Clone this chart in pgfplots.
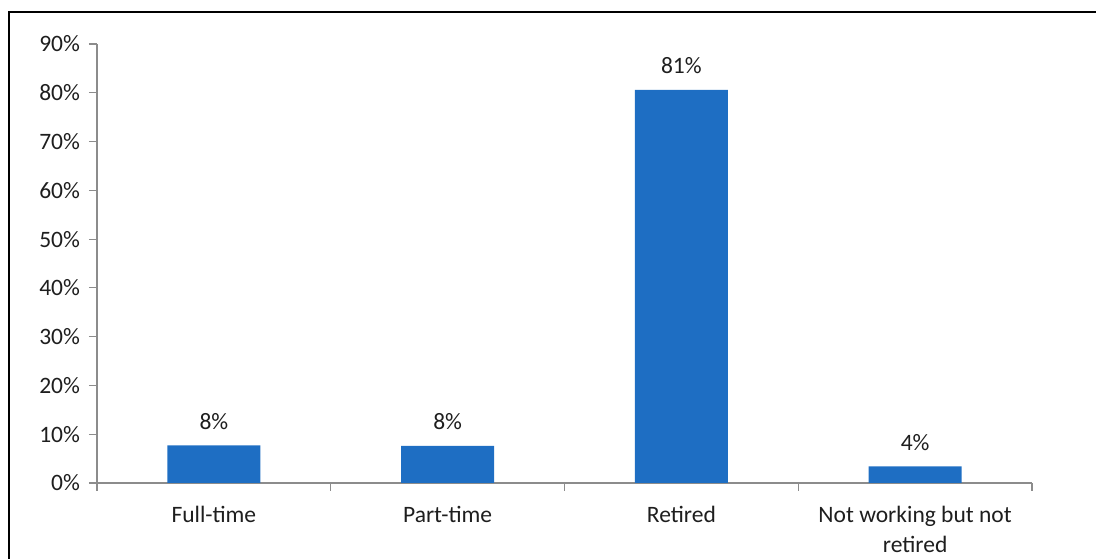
\documentclass[border=0pt]{standalone}
\usepackage{fontspec}
\setmainfont{Carlito}
\usepackage{pgfplots}
\pgfplotsset{compat=1.18}
\definecolor{barblue}{RGB}{30,110,195}
\definecolor{axgray}{RGB}{140,140,140}
\definecolor{txt}{RGB}{30,30,30}
\begin{document}
\begin{tikzpicture}
\useasboundingbox (0,0) rectangle (548bp,279.5bp);
\draw[line width=1.2bp] (4.5bp,0) -- (4.5bp,273.5bp) -- (548bp,273.5bp);
\begin{axis}[
  at={(48.5bp,38bp)}, anchor=south west,
  scale only axis, width=467.5bp, height=219.5bp,
  xmin=-0.5, xmax=3.5, ymin=0, ymax=90,
  axis x line*=bottom, axis y line*=left,
  axis line style={axgray, line width=0.8bp},
  every tick/.style={axgray, line width=0.6bp},
  xtick={0,1,2,3},
  xticklabels={Full-time, Part-time, Retired, {Not working but not\\retired}},
  minor xtick={-0.5,0.5,1.5,2.5,3.5},
  major x tick style={draw=none},
  xtick align=outside, ytick align=outside,
  major tick length=4bp, minor tick length=4bp,
  ytick={0,10,...,90},
  yticklabel={\pgfmathprintnumber{\tick}\%},
  /pgf/number format/assume math mode=true,
  tick label style={font=\fontsize{11.8}{15}\selectfont, text=txt},
  xticklabel style={align=center, yshift=-4bp},
  yticklabel style={xshift=-1bp},
  ybar, bar width=46.5bp,
  point meta=explicit symbolic,
  nodes near coords,
  every node near coord/.append style={font=\fontsize{11.8}{13}\selectfont, text=txt, anchor=base, inner sep=0pt, yshift=8bp},
]
\addplot[fill=barblue, draw=none] coordinates {
  (0,7.7) [8\%]
  (1,7.6) [8\%]
  (2,80.6) [81\%]
  (3,3.4) [4\%]
};
\end{axis}
\end{tikzpicture}
\end{document}
